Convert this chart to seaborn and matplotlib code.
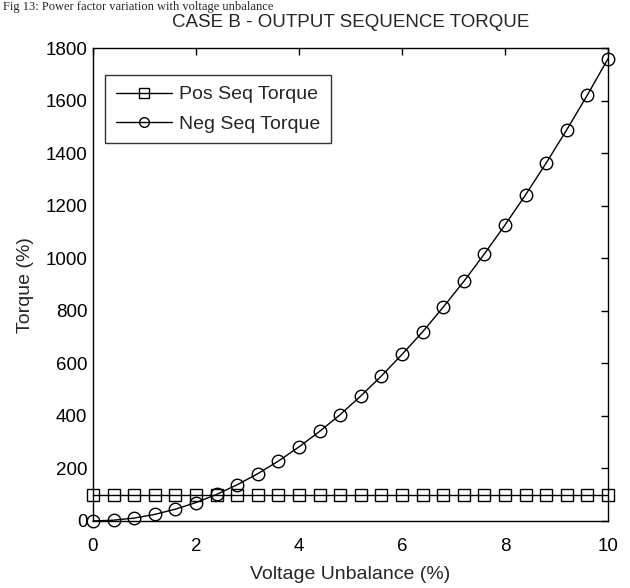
import matplotlib
matplotlib.use("Agg")
import matplotlib.pyplot as plt
import seaborn as sns
import pandas as pd

voltage_unbalance = [0.0, 0.4, 0.8, 1.2, 1.6, 2.0, 2.4, 2.8, 3.2, 3.6, 4.0, 4.4, 4.8,
                     5.2, 5.6, 6.0, 6.4, 6.8, 7.2, 7.6, 8.0, 8.4, 8.8, 9.2, 9.6, 10.0]
pos_seq_torque = [100] * 26
neg_seq_torque = [0, 3, 11, 25, 45, 70, 101, 138, 180, 228, 282, 341, 405,
                  476, 552, 634, 720, 814, 912, 1017, 1127, 1242, 1363, 1490, 1622, 1760]
x_ticks = [0, 2, 4, 6, 8, 10]
y_ticks = [0, 200, 400, 600, 800, 1000, 1200, 1400, 1600, 1800]

sns.set_theme(style="white")
plt.rcParams['font.family'] = ['Liberation Sans', 'DejaVu Sans']

df = pd.DataFrame({
    "Voltage Unbalance (%)": voltage_unbalance * 2,
    "Torque (%)": pos_seq_torque + neg_seq_torque,
    "Series": ["Pos Seq Torque"] * 26 + ["Neg Seq Torque"] * 26,
})

fig = plt.figure(figsize=(6.3, 5.88), dpi=100)
ax = fig.add_axes([0.1476, 0.114, 0.8175, 0.804])

sns.lineplot(data=df, x="Voltage Unbalance (%)", y="Torque (%)", hue="Series",
             style="Series", markers={"Pos Seq Torque": "s", "Neg Seq Torque": "o"},
             dashes=False, palette={"Pos Seq Torque": "black", "Neg Seq Torque": "black"},
             markersize=9, markerfacecolor="none", markeredgecolor="black",
             markeredgewidth=1.0, linewidth=1.0, ax=ax, legend=True, clip_on=False,
             zorder=3)

ax.set_xlim(0, 10)
ax.set_ylim(0, 1800)
ax.set_xticks(x_ticks)
ax.set_yticks(y_ticks)
ax.tick_params(direction="in", length=5, width=1, top=True, right=True,
               labelsize=13.5, colors="black", pad=4)
ax.tick_params(axis="x", pad=12)
for s in ax.spines.values():
    s.set_color("black")
    s.set_linewidth(1.0)
ax.set_xlabel("Voltage Unbalance (%)", fontsize=14, labelpad=8)
ax.set_ylabel("Torque (%)", fontsize=14, labelpad=8)
ax.set_title("CASE B - OUTPUT SEQUENCE TORQUE", fontsize=13.5, pad=15)

handles, labels = ax.get_legend_handles_labels()
leg = ax.legend(handles, labels, loc="upper left", bbox_to_anchor=(0.023, 0.943),
                borderaxespad=0, fontsize=14, frameon=True, fancybox=False,
                edgecolor="black", handlelength=2.9, handletextpad=0.35,
                borderpad=0.55, labelspacing=0.6)
leg.get_frame().set_linewidth(1.0)
for h in leg.legend_handles:
    h.set_markerfacecolor("none")
    h.set_markeredgecolor("black")
    h.set_markersize(7)

fig.text(0.005, 0.999, "Fig 13: Power factor variation with voltage unbalance",
         fontsize=9, family=["Liberation Serif", "DejaVu Serif"], va="top", ha="left")

fig.savefig("out.png", dpi=100, facecolor="white")
